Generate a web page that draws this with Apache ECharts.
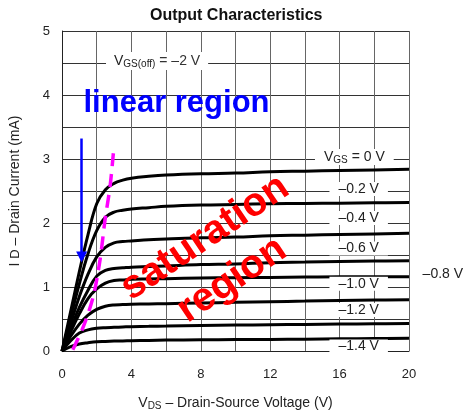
<!DOCTYPE html>
<html><head><meta charset="utf-8">
<script src="https://cdn.jsdelivr.net/npm/echarts@6/dist/echarts.min.js"></script>
<style>html,body{margin:0;padding:0;background:#fff}#c{width:464px;height:411px}</style>
</head><body><div id="c"></div>
<script>
const vds    = [0, 0.5, 1, 1.5, 2, 2.5, 3, 3.5, 4, 5, 6, 8, 10, 12, 14, 16, 18, 20];
const id_0   = [0, 0.62, 1.24, 1.82, 2.30, 2.52, 2.62, 2.67, 2.70, 2.73, 2.75, 2.77, 2.78, 2.80, 2.81, 2.82, 2.83, 2.84];
const id_m02 = [0, 0.53, 1.05, 1.52, 1.88, 2.09, 2.17, 2.20, 2.22, 2.24, 2.26, 2.28, 2.29, 2.30, 2.305, 2.31, 2.315, 2.32];
const id_m04 = [0, 0.43, 0.85, 1.20, 1.47, 1.62, 1.69, 1.71, 1.72, 1.74, 1.75, 1.77, 1.78, 1.80, 1.81, 1.82, 1.83, 1.84];
const id_m06 = [0, 0.35, 0.68, 0.95, 1.17, 1.26, 1.29, 1.30, 1.31, 1.32, 1.33, 1.35, 1.36, 1.38, 1.39, 1.40, 1.405, 1.41];
const id_m08 = [0, 0.30, 0.58, 0.82, 0.97, 1.06, 1.10, 1.11, 1.12, 1.125, 1.13, 1.14, 1.145, 1.15, 1.155, 1.16, 1.16, 1.16];
const id_m10 = [0, 0.23, 0.42, 0.56, 0.65, 0.70, 0.72, 0.725, 0.73, 0.735, 0.74, 0.75, 0.76, 0.77, 0.78, 0.79, 0.795, 0.80];
const id_m12 = [0, 0.16, 0.28, 0.33, 0.355, 0.365, 0.37, 0.375, 0.38, 0.385, 0.39, 0.40, 0.405, 0.41, 0.415, 0.42, 0.425, 0.43];
const id_m14 = [0, 0.07, 0.11, 0.13, 0.145, 0.15, 0.155, 0.158, 0.16, 0.165, 0.17, 0.175, 0.178, 0.18, 0.185, 0.19, 0.195, 0.20];
const curves = [id_0, id_m02, id_m04, id_m06, id_m08, id_m10, id_m12, id_m14];

// boundary (pinch-off) dashed line
const bndV = [0.62, 1.23, 1.80, 2.19, 2.48, 2.77, 2.96];
const bndI = [0.02, 0.38, 0.85, 1.42, 2.05, 2.57, 3.09];

// curve labels
const curveLabels = ['{v|V}{s|GS} = 0 V', '–0.2 V', '–0.4 V', '–0.6 V', '–0.8 V', '–1.0 V', '–1.2 V', '–1.4 V'];
const labelV = [16.85, 17.1, 17.1, 17.1, 21.95, 17.1, 17.1, 17.1];
const labelI = [3.03, 2.53, 2.08, 1.60, 1.20, 1.05, 0.64, 0.07];

// annotations
const vgsOffText = '{v|V}{s|GS(off)} = –2 V';
const vgsOffPos = [5.48, 4.53];
const linearText = 'linear region';
const linearPos = [6.6, 3.875];
const satText = 'saturation';
const satPos = [8.24, 1.77];
const regText = 'region';
const regPos = [9.8, 1.11];
const arrowV = 1.13, arrowTop = 3.32, arrowBottom = 1.47;

const xTicks = [0, 4, 8, 12, 16, 20];
const yTicks = [0, 1, 2, 3, 4, 5];

const FONT = '"Liberation Sans", Arial, sans-serif';
const chart = echarts.init(document.getElementById('c'));

const series = curves.map(arr => ({
  type: 'line', data: vds.map((v, i) => [v, arr[i]]),
  smooth: 0.4, showSymbol: false, symbol: 'none',
  lineStyle: { color: '#000', width: 3 }, z: 3, silent: true
}));

series.push({
  type: 'line', data: bndV.map((v, i) => [v, bndI[i]]), smooth: 0.3,
  showSymbol: false, symbol: 'none', z: 4, silent: true,
  lineStyle: { color: '#ff00ff', width: 3.5, type: [13, 8] }
});

const txtRich = { v: { fontSize: 14, fontFamily: FONT, color: '#222' }, s: { fontSize: 10, fontFamily: FONT, color: '#222', verticalAlign: 'bottom', padding: [6, 0, 0, 0] } };

series.push({
  type: 'scatter', symbolSize: 0, clip: false, z: 5, silent: true,
  itemStyle: { opacity: 1 },
  data: labelV.map((v, i) => ({ value: [v, labelI[i]], name: curveLabels[i],
    label: { backgroundColor: i === 4 ? 'transparent' : '#fff', padding: [0, 9, 0, 9] } })),
  label: { show: true, position: 'inside', formatter: p => p.name, fontSize: 14, fontFamily: FONT, color: '#222', rich: txtRich }
});

series.push({
  type: 'scatter', symbolSize: 0, clip: false, z: 6, silent: true,
  itemStyle: { opacity: 1 },
  data: [
    { value: vgsOffPos, name: vgsOffText, label: { fontSize: 14, color: '#333', backgroundColor: '#fff', padding: [1, 8, 1, 8], rich: txtRich } },
    { value: linearPos, name: linearText, label: { fontSize: 31, fontWeight: 'bold', color: '#0000ff' } },
    { value: satPos, name: satText, label: { fontSize: 40, fontWeight: 'bold', color: '#ff0000', rotate: 34 } },
    { value: regPos, name: regText, label: { fontSize: 40, fontWeight: 'bold', color: '#ff0000', rotate: 34 } }
  ],
  label: { show: true, position: 'inside', formatter: p => p.name, fontFamily: FONT }
});

series.push({
  type: 'line', data: [], silent: true,
  markLine: {
    silent: true, animation: false, symbolSize: [11, 11],
    lineStyle: { color: '#0000ff', width: 2.5, type: 'solid' }, label: { show: false },
    data: [[{ coord: [arrowV, arrowTop], symbol: 'none' }, { coord: [arrowV, arrowBottom], symbol: 'triangle', symbolRotate: 180 }]]
  }
});

chart.setOption({
  animation: false,
  title: { text: 'Output Characteristics', left: 145, top: 3, textStyle: { fontSize: 16, fontWeight: 'bold', fontFamily: FONT, color: '#111' } },
  grid: { left: 62, right: 55, top: 31, bottom: 60, outerBoundsMode: 'none', containLabel: false },
  xAxis: {
    type: 'value', min: 0, max: 20, interval: 2,
    axisLine: { show: true, lineStyle: { color: '#222', width: 1 } }, axisTick: { show: false },
    splitLine: { show: true, lineStyle: { color: '#666', width: 1 } },
    axisLabel: { margin: 17, fontSize: 13, fontFamily: FONT, color: '#222', formatter: v => xTicks.includes(v) ? String(v) : '' },
    name: '{v|V}{s|DS} – Drain-Source Voltage (V)', nameLocation: 'middle', nameGap: 44,
    nameTextStyle: { fontSize: 14, fontFamily: FONT, color: '#222', rich: txtRich }
  },
  yAxis: {
    type: 'value', min: 0, max: 5, interval: 0.5,
    axisLine: { show: true, lineStyle: { color: '#222', width: 1 } }, axisTick: { show: false },
    splitLine: { show: true, lineStyle: { color: '#333', width: 1 } },
    axisLabel: { margin: 12, fontSize: 13, fontFamily: FONT, color: '#222', formatter: v => yTicks.includes(v) ? String(v) : '' },
    name: 'I {v|D} – Drain Current (mA)', nameLocation: 'middle', nameGap: 40,
    nameTextStyle: { fontSize: 14, fontFamily: FONT, color: '#222', rich: { v: { fontSize: 13, fontFamily: FONT, color: '#222' } } }
  },
  series: series
});
</script></body></html>
